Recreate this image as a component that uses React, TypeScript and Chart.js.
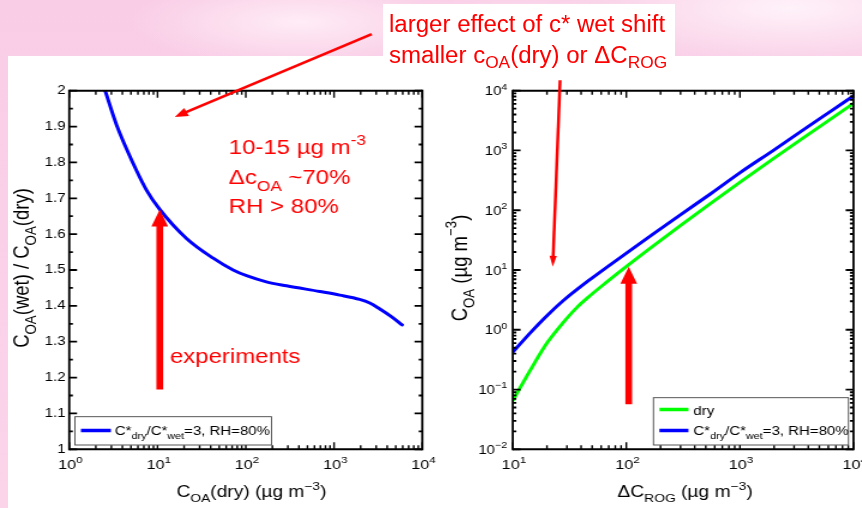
import React, { useEffect, useRef } from 'react';
import { Chart, registerables } from 'chart.js';
Chart.register(...registerables);

const FAM = '"Liberation Sans", Arial, Helvetica, sans-serif';
const SX = 1.2; // horizontal stretch of the chart pictures
const H = 508;
const BW_L = 367;
const BW_R = 359;
const RIGHT_LEFT_CSS = 431;

// ---------- data: left panel ----------
const COA_DRY = [2.55, 3.44, 5.3, 7.5, 10.6, 21.3, 42.7, 71.8, 102, 171, 289, 690, 1159, 1950, 2535, 3270, 4457, 5900];
const RATIO_WET_DRY = [2.0, 1.904, 1.797, 1.723, 1.669, 1.588, 1.533, 1.5, 1.484, 1.467, 1.456, 1.44, 1.43, 1.418, 1.408, 1.392, 1.37, 1.347];

// ---------- data: right panel ----------
const ROG_DRY = [10, 14.2, 20, 27.9, 36.6, 48.1, 67.4, 101, 174, 299, 549, 1012, 1987, 3917, 6285, 10000];
const COA_DRY_CASE = [0.065, 0.207, 0.598, 1.33, 2.35, 3.74, 6.32, 11.6, 25.6, 55.2, 129, 299, 738, 1807, 3342, 6124];
const ROG_WET = [10.1, 14.2, 20, 27.9, 48.1, 101, 174, 299, 549, 1012, 1987, 3917, 6285, 10000];
const COA_WET_CASE = [0.43, 0.88, 1.72, 3.08, 6.97, 19.4, 40.5, 83.6, 187, 430, 1016, 2460, 4519, 8200];

// ---------- ticks ----------
const LEFT_X_TICKS = [1, 10, 100, 1000, 10000];
const LEFT_Y_TICKS = [1, 1.1, 1.2, 1.3, 1.4, 1.5, 1.6, 1.7, 1.8, 1.9, 2];
const LEFT_Y_LABELS = ['1', '1.1', '1.2', '1.3', '1.4', '1.5', '1.6', '1.7', '1.8', '1.9', '2'];
const LEFT_Y_MINOR = [1.05, 1.15, 1.25, 1.35, 1.45, 1.55, 1.65, 1.75, 1.85, 1.95];
const RIGHT_X_TICKS = [10, 100, 1000, 10000];
const RIGHT_Y_TICKS = [0.01, 0.1, 1, 10, 100, 1000, 10000];

// ---------- annotations (data coordinates) ----------
const LEFT_BIG_ARROW = { x: 10.6, y0: 1.167, y1: 1.669 };
const LEFT_THIN_ARROW = { x0: 2670, y0: 2.158, x1: 15.7, y1: 1.927 };
const RIGHT_BIG_ARROW = { x: 105, y0: 0.0567, y1: 11.3 };
const RIGHT_THIN_ARROW = { x0: 26.1, y0: 15000, x1: 22.5, y1: 11.3 };

const logMinor = (lo: number, hi: number) => {
  const out: number[] = [];
  for (let e = lo; e < hi; e++) for (let k = 2; k <= 9; k++) out.push(k * Math.pow(10, e));
  return out;
};

type Run = { t: string; s?: 'sub' | 'sup' };

const powRuns = (v: number): Run[] => [
  { t: '10' },
  { t: String(Math.round(Math.log10(v))).replace('-', '−'), s: 'sup' },
];

const LEFT_X_TITLE: Run[] = [{ t: 'C' }, { t: 'OA', s: 'sub' }, { t: '(dry) (µg m' }, { t: '−3', s: 'sup' }, { t: ')' }];
const LEFT_Y_TITLE: Run[] = [{ t: 'C' }, { t: 'OA', s: 'sub' }, { t: '(wet) / C' }, { t: 'OA', s: 'sub' }, { t: '(dry)' }];
const RIGHT_X_TITLE: Run[] = [{ t: 'ΔC' }, { t: 'ROG', s: 'sub' }, { t: ' (µg m' }, { t: '−3', s: 'sup' }, { t: ')' }];
const RIGHT_Y_TITLE: Run[] = [{ t: 'C' }, { t: 'OA', s: 'sub' }, { t: ' (µg m' }, { t: '−3', s: 'sup' }, { t: ')' }];
const WET_LABEL: Run[] = [{ t: 'C*' }, { t: 'dry', s: 'sub' }, { t: '/C*' }, { t: 'wet', s: 'sub' }, { t: '=3, RH=80%' }];
const DRY_LABEL: Run[] = [{ t: 'dry' }];
const NOTE_LINES: Run[][] = [
  [{ t: '10-15 µg m' }, { t: '-3', s: 'sup' }],
  [{ t: 'Δc' }, { t: 'OA', s: 'sub' }, { t: ' ~70%' }],
  [{ t: 'RH > 80%' }],
];
const EXPERIMENTS: Run[] = [{ t: 'experiments' }];

const lx = (css: number) => css / SX;
const rx = (css: number) => (css - RIGHT_LEFT_CSS) / SX;

function setFont(ctx: CanvasRenderingContext2D, size: number) {
  ctx.font = `${size}px ${FAM}`;
}
function runsWidth(ctx: CanvasRenderingContext2D, runs: Run[], size: number) {
  let w = 0;
  for (const r of runs) {
    setFont(ctx, r.s ? size * 0.72 : size);
    w += ctx.measureText(r.t).width;
  }
  return w;
}
function drawRuns(ctx: CanvasRenderingContext2D, runs: Run[], x: number, y: number, size: number, align: 'left' | 'center' | 'right') {
  const w = runsWidth(ctx, runs, size);
  let cx = align === 'center' ? x - w / 2 : align === 'right' ? x - w : x;
  ctx.textAlign = 'left';
  ctx.textBaseline = 'alphabetic';
  for (const r of runs) {
    const fs = r.s ? size * 0.72 : size;
    setFont(ctx, fs);
    const dy = r.s === 'sub' ? size * 0.32 : r.s === 'sup' ? -size * 0.45 : 0;
    ctx.fillText(r.t, cx, y + dy);
    cx += ctx.measureText(r.t).width;
  }
}
function fatArrow(ctx: CanvasRenderingContext2D, x: number, y0: number, y1: number, sw: number, hw: number, hl: number) {
  ctx.beginPath();
  ctx.moveTo(x - sw / 2, y0);
  ctx.lineTo(x - sw / 2, y1 + hl);
  ctx.lineTo(x - hw / 2, y1 + hl);
  ctx.lineTo(x, y1);
  ctx.lineTo(x + hw / 2, y1 + hl);
  ctx.lineTo(x + sw / 2, y1 + hl);
  ctx.lineTo(x + sw / 2, y0);
  ctx.closePath();
  ctx.fill();
}
function thinArrow(ctx: CanvasRenderingContext2D, x0: number, y0: number, x1: number, y1: number, lw: number, hl: number, hw: number) {
  const dx = x1 - x0, dy = y1 - y0;
  const len = Math.hypot(dx, dy);
  const ux = dx / len, uy = dy / len;
  const bx = x1 - ux * hl, by = y1 - uy * hl;
  ctx.lineWidth = lw;
  ctx.beginPath();
  ctx.moveTo(x0, y0);
  ctx.lineTo(bx + ux * 1, by + uy * 1);
  ctx.stroke();
  ctx.beginPath();
  ctx.moveTo(x1, y1);
  ctx.lineTo(bx - uy * hw, by + ux * hw);
  ctx.lineTo(bx + uy * hw, by - ux * hw);
  ctx.closePath();
  ctx.fill();
}

interface LegendItem { ds: number; runs: Run[]; l0: number; l1: number; ly: number; tx: number; ty: number }
interface Decor {
  xMajor: number[]; xMinor: number[]; yMajor: number[]; yMinor: number[];
  yPowLabels: boolean; yPowPad: number;
  xTitle: { runs: Run[]; x: number; y: number; size: number };
  yTitle: { runs: Run[]; x: number; y: number; size: number };
  legendBox: [number, number, number, number];
  legendItems: LegendItem[];
  legendSize: number;
  big: { x: number; y0: number; y1: number };
  thin: { x0: number; y0: number; x1: number; y1: number; lw: number; hl: number; hw: number };
  texts: { runs: Run[]; x: number; y: number; size: number }[];
}

function decorPlugin(d: Decor) {
  return {
    id: 'decor',
    afterDraw(chart: any) {
      const ctx: CanvasRenderingContext2D = chart.ctx;
      const xs = chart.scales.x, ys = chart.scales.y;
      const a = chart.chartArea;
      ctx.save();
      ctx.strokeStyle = '#000';
      ctx.lineWidth = 1.4;
      const xt: [number[], number][] = [[d.xMajor, 7], [d.xMinor, 4]];
      for (const [vals, len] of xt) {
        for (const v of vals) {
          const p = xs.getPixelForValue(v);
          if (p < a.left - 0.5 || p > a.right + 0.5) continue;
          ctx.beginPath();
          ctx.moveTo(p, a.bottom); ctx.lineTo(p, a.bottom - len);
          ctx.moveTo(p, a.top); ctx.lineTo(p, a.top + len);
          ctx.stroke();
        }
      }
      ctx.lineWidth = 1.8;
      const yt: [number[], number][] = [[d.yMajor, 6.5], [d.yMinor, 3]];
      for (const [vals, len] of yt) {
        for (const v of vals) {
          const p = ys.getPixelForValue(v);
          if (p < a.top - 0.5 || p > a.bottom + 0.5) continue;
          ctx.beginPath();
          ctx.moveTo(a.left, p); ctx.lineTo(a.left + len, p);
          ctx.moveTo(a.right, p); ctx.lineTo(a.right - len, p);
          ctx.stroke();
        }
      }
      // frame
      ctx.lineWidth = 2;
      ctx.beginPath();
      ctx.moveTo(a.left, a.top); ctx.lineTo(a.right, a.top);
      ctx.moveTo(a.left, a.bottom); ctx.lineTo(a.right, a.bottom);
      ctx.stroke();
      ctx.lineWidth = 1.8;
      ctx.beginPath();
      ctx.moveTo(a.left, a.top - 1); ctx.lineTo(a.left, a.bottom + 1);
      ctx.moveTo(a.right, a.top - 1); ctx.lineTo(a.right, a.bottom + 1);
      ctx.stroke();

      // power-of-ten tick labels, placed by the chart's scales
      ctx.fillStyle = '#000';
      for (const v of d.xMajor) {
        drawRuns(ctx, powRuns(v), xs.getPixelForValue(v) + 1, 469, 13.5, 'center');
      }
      if (d.yPowLabels) {
        for (const v of d.yMajor) {
          drawRuns(ctx, powRuns(v), a.left - d.yPowPad, ys.getPixelForValue(v) + 4.5, 12.5, 'right');
        }
      }

      // legend
      const [b0, b1, b2, b3] = d.legendBox;
      ctx.fillStyle = '#fff';
      ctx.fillRect(b0, b1, b2 - b0, b3 - b1);
      ctx.strokeStyle = '#444';
      ctx.lineWidth = 0.9;
      ctx.strokeRect(b0, b1, b2 - b0, b3 - b1);
      for (const it of d.legendItems) {
        ctx.strokeStyle = chart.data.datasets[it.ds].borderColor;
        ctx.lineWidth = 3.5;
        ctx.beginPath();
        ctx.moveTo(it.l0, it.ly); ctx.lineTo(it.l1, it.ly);
        ctx.stroke();
        ctx.fillStyle = '#000';
        drawRuns(ctx, it.runs, it.tx, it.ty, d.legendSize, 'left');
      }

      // titles
      ctx.fillStyle = '#000';
      drawRuns(ctx, d.xTitle.runs, d.xTitle.x, d.xTitle.y, d.xTitle.size, 'center');
      ctx.save();
      ctx.translate(d.yTitle.x, d.yTitle.y);
      ctx.rotate(-Math.PI / 2);
      drawRuns(ctx, d.yTitle.runs, 0, 0, d.yTitle.size, 'center');
      ctx.restore();

      // annotations
      ctx.fillStyle = '#ff0000';
      ctx.strokeStyle = '#ff0000';
      const bx = xs.getPixelForValue(d.big.x);
      fatArrow(ctx, bx, ys.getPixelForValue(d.big.y0), ys.getPixelForValue(d.big.y1), 5.6, 13.9, 17);
      thinArrow(ctx,
        xs.getPixelForValue(d.thin.x0), ys.getPixelForValue(d.thin.y0),
        xs.getPixelForValue(d.thin.x1), ys.getPixelForValue(d.thin.y1),
        d.thin.lw, d.thin.hl, d.thin.hw);
      for (const t of d.texts) drawRuns(ctx, t.runs, t.x, t.y, t.size, 'left');
      ctx.restore();
    },
  };
}

const PLOT_T = 90.7;
const PLOT_B = 449.3;

function baseScales(xTicks: number[], yTicks: number[], yLog: boolean, axisW: number, xMin: number, xMax: number, yMin: number, yMax: number) {
  return {
    x: {
      type: 'logarithmic', min: xMin, max: xMax,
      grid: { display: false, drawTicks: false }, border: { display: false },
      afterBuildTicks: (s: any) => { s.ticks = xTicks.map((v) => ({ value: v })); },
      afterFit: (s: any) => { s.height = H - PLOT_B; s.paddingLeft = 0; s.paddingRight = 0; },
      ticks: { display: false, autoSkip: false, maxRotation: 0, minRotation: 0 },
    },
    y: {
      type: yLog ? 'logarithmic' : 'linear', min: yMin, max: yMax,
      grid: { display: false, drawTicks: false }, border: { display: false },
      afterBuildTicks: (s: any) => { s.ticks = yTicks.map((v) => ({ value: v })); },
      afterFit: (s: any) => { s.width = axisW; s.paddingTop = 0; s.paddingBottom = 0; },
      ticks: {
        display: !yLog, autoSkip: false, padding: 3, color: '#000', font: { family: FAM, size: 12.5 },
        callback: (_v: number, i: number) => LEFT_Y_LABELS[i],
      },
    },
  };
}

function leftConfig(): any {
  return {
    type: 'line',
    data: {
      datasets: [{
        data: COA_DRY.map((x, i) => ({ x, y: RATIO_WET_DRY[i] })),
        borderColor: '#0000ff', borderWidth: 3, pointRadius: 0, fill: false,
        cubicInterpolationMode: 'monotone', borderCapStyle: 'round',
      }],
    },
    options: {
      responsive: false, maintainAspectRatio: false, animation: false, devicePixelRatio: 1,
      events: [],
      layout: { padding: { top: PLOT_T, right: BW_L - lx(422.7), left: 0, bottom: 0 } },
      plugins: { legend: { display: false }, tooltip: { enabled: false }, title: { display: false } },
      scales: baseScales(LEFT_X_TICKS, LEFT_Y_TICKS, false, lx(69.3), 1, 10000, 1, 2),
    },
    plugins: [decorPlugin({
      xMajor: LEFT_X_TICKS, xMinor: logMinor(0, 4), yMajor: LEFT_Y_TICKS, yMinor: LEFT_Y_MINOR,
      yPowLabels: false, yPowPad: 0,
      xTitle: { runs: LEFT_X_TITLE, x: lx(251.7), y: 496.7, size: 16 },
      yTitle: { runs: LEFT_Y_TITLE, x: lx(28.3), y: 268, size: 18.5 },
      legendBox: [lx(75), 416.7, lx(271.7), 445],
      legendItems: [{ ds: 0, runs: WET_LABEL, l0: lx(81), l1: lx(111), ly: 430.5, tx: lx(115), ty: 434.5 }],
      legendSize: 12.5,
      big: LEFT_BIG_ARROW,
      thin: { ...LEFT_THIN_ARROW, lw: 2.6, hl: 11, hw: 4.5 },
      texts: [
        { runs: NOTE_LINES[0], x: lx(229), y: 154.3, size: 20 },
        { runs: NOTE_LINES[1], x: lx(229), y: 184.3, size: 20 },
        { runs: NOTE_LINES[2], x: lx(229), y: 212.7, size: 20 },
        { runs: EXPERIMENTS, x: lx(170), y: 363, size: 20 },
      ],
    })],
  };
}

function rightConfig(): any {
  return {
    type: 'line',
    data: {
      datasets: [
        {
          data: ROG_DRY.map((x, i) => ({ x, y: COA_DRY_CASE[i] })),
          borderColor: '#00ff00', borderWidth: 3, pointRadius: 0, fill: false,
          cubicInterpolationMode: 'monotone', borderCapStyle: 'round',
        },
        {
          data: ROG_WET.map((x, i) => ({ x, y: COA_WET_CASE[i] })),
          borderColor: '#0000ff', borderWidth: 3, pointRadius: 0, fill: false,
          cubicInterpolationMode: 'monotone', borderCapStyle: 'round',
        },
      ],
    },
    options: {
      responsive: false, maintainAspectRatio: false, animation: false, devicePixelRatio: 1,
      events: [],
      layout: { padding: { top: PLOT_T, right: BW_R - rx(853.3), left: 0, bottom: 0 } },
      plugins: { legend: { display: false }, tooltip: { enabled: false }, title: { display: false } },
      scales: baseScales(RIGHT_X_TICKS, RIGHT_Y_TICKS, true, rx(512.7), 10, 10000, 0.01, 10000),
    },
    plugins: [decorPlugin({
      xMajor: RIGHT_X_TICKS, xMinor: logMinor(1, 4), yMajor: RIGHT_Y_TICKS, yMinor: logMinor(-2, 4),
      yPowLabels: true, yPowPad: 4.5,
      xTitle: { runs: RIGHT_X_TITLE, x: rx(685), y: 496.7, size: 16 },
      yTitle: { runs: RIGHT_Y_TITLE, x: rx(466.7), y: 268, size: 18.5 },
      legendBox: [rx(653.3), 397.7, rx(848.3), 445],
      legendItems: [
        { ds: 0, runs: DRY_LABEL, l0: rx(659.3), l1: rx(688.3), ly: 409.5, tx: rx(693.3), ty: 414.5 },
        { ds: 1, runs: WET_LABEL, l0: rx(659.3), l1: rx(688.3), ly: 430.5, tx: rx(693.3), ty: 434.5 },
      ],
      legendSize: 12.5,
      big: RIGHT_BIG_ARROW,
      thin: { ...RIGHT_THIN_ARROW, lw: 2.5, hl: 11, hw: 3 },
      texts: [],
    })],
  };
}

const Sub = ({ children }: { children: React.ReactNode }) => (
  <span style={{ fontSize: '0.72em', position: 'relative', top: '0.3em', lineHeight: 0 }}>{children}</span>
);

export default function App() {
  const lRef = useRef<HTMLCanvasElement>(null);
  const rRef = useRef<HTMLCanvasElement>(null);
  useEffect(() => {
    const c1 = new Chart(lRef.current as HTMLCanvasElement, leftConfig());
    const c2 = new Chart(rRef.current as HTMLCanvasElement, rightConfig());
    return () => { c1.destroy(); c2.destroy(); };
  }, []);
  return (
    <div
      style={{
        position: 'fixed', left: 0, top: 0, width: 862, height: 508, overflow: 'hidden',
        background:
          'radial-gradient(ellipse 170px 45px at 300px 22px, rgba(255,238,247,0.95), rgba(255,238,247,0)), ' +
          'radial-gradient(ellipse 230px 60px at 790px 8px, rgba(255,244,250,0.95), rgba(255,244,250,0)), ' +
          'radial-gradient(ellipse 140px 40px at 520px 30px, rgba(255,236,246,0.8), rgba(255,236,246,0)), ' +
          'linear-gradient(180deg, #f9cde6 0%, #fbd4ea 100%)',
      }}
    >
      <div style={{ position: 'absolute', left: 8, top: 56, width: 854, height: 452, background: '#ffffff' }} />
      <div style={{ position: 'absolute', left: 383, top: 4, width: 292, height: 60, background: '#ffffff' }} />
      <canvas
        ref={lRef}
        width={BW_L}
        height={H}
        style={{ position: 'absolute', left: 0, top: 0, width: BW_L * SX, height: H }}
      />
      <canvas
        ref={rRef}
        width={BW_R}
        height={H}
        style={{ position: 'absolute', left: RIGHT_LEFT_CSS, top: 0, width: BW_R * SX, height: H }}
      />
      <div
        style={{
          position: 'absolute', left: 389, top: 4, paddingTop: 5, transform: 'scaleX(1.045)', transformOrigin: '0 0',
          fontFamily: FAM, fontSize: 23, lineHeight: '31px', color: '#ff0000', whiteSpace: 'nowrap',
        }}
      >
        <div>larger effect of c* wet shift</div>
        <div>smaller c<Sub>OA</Sub>(dry) or ΔC<Sub>ROG</Sub></div>
      </div>
    </div>
  );
}
